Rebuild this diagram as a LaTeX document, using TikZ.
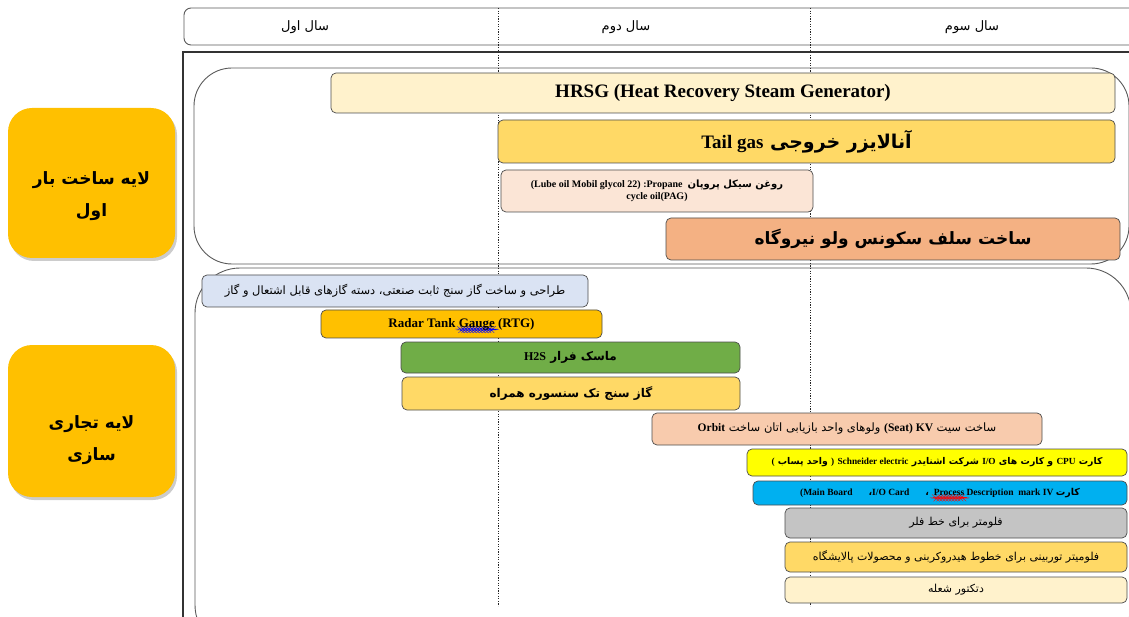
\documentclass[tikz,border=0pt]{standalone}
\usepackage{fontspec}
\setmainfont{Liberation Serif}
\newfontfamily\arfont[Script=Arabic]{DejaVu Sans}
\TeXXeTstate=1
\usetikzlibrary{shadows,decorations.pathmorphing}
\newcommand{\fa}[1]{{\arfont\beginR #1\endR}}
\newcommand{\latn}[1]{\beginL{\rmfamily #1}\endL{}}
\newcommand{\fs}[2]{\fontsize{#1}{#2}\selectfont}
\newlength\wavylen
\newcommand{\wavy}[2]{\settowidth\wavylen{#2}\rlap{\raisebox{-3pt}[0pt][0pt]{\tikz\draw[#1, line width=0.3pt, decorate, decoration={snake, amplitude=0.45pt, segment length=3pt}] (0pt,0pt) -- (\wavylen,0pt);}}#2}
\definecolor{cCream}{HTML}{FFF2CC}
\definecolor{cGold}{HTML}{FFD966}
\definecolor{cPeachL}{HTML}{FBE5D6}
\definecolor{cPeach}{HTML}{F4B183}
\definecolor{cBlueL}{HTML}{DAE3F3}
\definecolor{cOrange}{HTML}{FFC000}
\definecolor{cGreen}{HTML}{70AD47}
\definecolor{cSalmon}{HTML}{F8CBAD}
\definecolor{cYellow}{HTML}{FFFF00}
\definecolor{cCyan}{HTML}{00B0F0}
\definecolor{cGray}{HTML}{C4C4C4}
\begin{document}
\begin{tikzpicture}[x=1pt,y=-1pt,
  gbar/.style={draw=black!70, line width=0.7pt, rounded corners=5pt, inner sep=0pt, align=center},
  layerbox/.style={draw=black!65, line width=0.9pt, inner sep=0pt},
  lbox/.style={fill=cOrange, rounded corners=24pt, draw=none, inner sep=0pt,
     drop shadow={fill=black!40, opacity=0.5, shadow xshift=2pt, shadow yshift=-3pt}},
  yearline/.style={black!85, line width=1pt, dash pattern=on 1.3pt off 1.3pt},
  yr/.style={font=\fs{13}{15}}
]
\useasboundingbox (0,0) rectangle (1129,617);
\begin{scope}
\clip (0,0) rectangle (1129,617);
% header and frame
\node[layerbox, rounded corners=7pt, minimum width=956pt, minimum height=37pt] (header) at (662,26.5) {};
\node[layerbox, draw=black!80, line width=1.2pt, minimum width=957pt, minimum height=588pt] (frame) at (661.5,346) {};
\node[layerbox, rounded corners=38pt, minimum width=935pt, minimum height=196pt] (layer1) at (661.5,166) {};
\node[layerbox, rounded corners=45pt, minimum width=936pt, minimum height=382pt] (layer2) at (663,459) {};
% year dividers
\coordinate (d1t) at (498,8);
\coordinate (d1b) at (498,606);
\coordinate (d2t) at (810,8);
\coordinate (d2b) at (810,606);
\draw[yearline] (d1t) -- (d1b);
\draw[yearline] (d2t) -- (d2b);
\end{scope}
% year labels
\node[yr] (y1) at (305,27) {\fa{سال اول}};
\node[yr] (y2) at (626,27) {\fa{سال دوم}};
\node[yr] (y3) at (972,27) {\fa{سال سوم}};
% left layer labels
\node[lbox, minimum width=167pt, minimum height=150pt] (lay1) at (91.5,183) {};
\node[font=\bfseries\fs{17}{32}, align=center] (lay1t) at (91.5,196) {\fa{لایه ساخت بار}\\\fa{اول}};
\node[lbox, minimum width=167pt, minimum height=152pt] (lay2) at (91.5,421) {};
\node[font=\bfseries\fs{17}{32}, align=center] (lay2t) at (91.5,440) {\fa{لایه تجاری}\\\fa{سازی}};
% bars of layer 1
\node[gbar, fill=cCream, minimum width=784pt, minimum height=40pt, font=\bfseries\fs{19}{22}] (hrsg) at (723,93) {HRSG (Heat Recovery Steam Generator)};
\node[gbar, fill=cGold, minimum width=617pt, minimum height=43pt, font=\bfseries\fs{19}{22}] (tail) at (806.5,141.5) {\fa{آنالایزر خروجی \latn{Tail gas}}};
\node[gbar, fill=cPeachL, minimum width=312pt, minimum height=42pt, font=\bfseries\fs{10}{12}] (lube) at (657,191) {(Lube oil Mobil glycol 22) :Propane\ \ \fa{روغن سیکل پروپان}\\cycle oil(PAG)};
\node[gbar, fill=cPeach, minimum width=454pt, minimum height=42pt, font=\bfseries\fs{17}{20}] (self) at (893,239) {\fa{ساخت سلف سکونس ولو نیروگاه}};
% bars of layer 2
\node[gbar, fill=cBlueL, minimum width=386pt, minimum height=32pt, font=\fs{11.5}{13}] (design) at (395,291) {\fa{طراحی و ساخت گاز سنج ثابت صنعتی، دسته گازهای قابل اشتعال و گاز}};
\node[gbar, fill=cOrange, minimum width=281pt, minimum height=28pt, font=\bfseries\fs{13}{15}] (radar) at (461.5,324) {Radar Tank \wavy{blue}{Gauge} (RTG)};
\node[gbar, fill=cGreen, minimum width=339pt, minimum height=31pt, font=\bfseries\fs{12}{14}] (h2s) at (570.5,357.5) {\fa{ماسک فرار \latn{H2S}}};
\node[gbar, fill=cGold, minimum width=338pt, minimum height=33pt, font=\bfseries\fs{12}{14}] (gas) at (571,393.5) {\fa{گاز سنج تک سنسوره همراه}};
\node[gbar, fill=cSalmon, minimum width=390pt, minimum height=32pt, font=\fs{11.5}{13}] (orbit) at (847,429) {\fa{ساخت سیت \latn{\bfseries (Seat) KV} ولوهای واحد بازیابی اتان ساخت \latn{\bfseries Orbit}}};
\node[gbar, fill=cYellow, minimum width=380pt, minimum height=27pt, font=\bfseries\fs{9.3}{11}] (cpu) at (937,462.5) {\fa{کارت \latn{CPU} و کارت های \latn{I/O} شرکت اشنایدر \latn{Schneider electric} \latn{)} واحد پساب \latn{(}}};
\node[gbar, fill=cCyan, minimum width=374pt, minimum height=24pt, font=\bfseries\fs{9.5}{11}] (mark) at (940,493) {(Main Board\hspace{16pt}{\arfont ،}I/O Card\hspace{16pt}{\arfont ،}\ \ \wavy{red}{Process} Description\ \ mark IV \fa{کارت}};
\node[gbar, fill=cGray, minimum width=342pt, minimum height=30pt, font=\fs{11}{13}] (flow) at (956,523) {\fa{فلومتر برای خط فلر}};
\node[gbar, fill=cGold, minimum width=342pt, minimum height=30pt, font=\fs{11}{13}] (turb) at (956,557) {\fa{فلومیتر توربینی برای خطوط هیدروکربنی و محصولات پالایشگاه}};
\node[gbar, fill=cCream, minimum width=342pt, minimum height=26pt, font=\fs{11}{13}] (flame) at (956,590) {\fa{دتکتور شعله}};
\end{tikzpicture}
\end{document}
